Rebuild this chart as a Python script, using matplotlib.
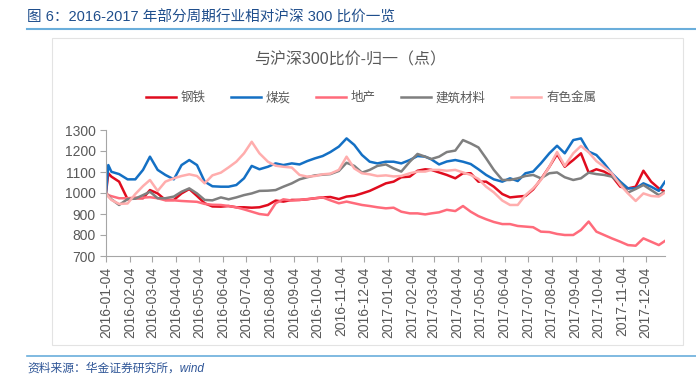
import numpy as np
import pandas as pd
import matplotlib
matplotlib.use("Agg")
import matplotlib.pyplot as plt
import matplotlib.dates as mdates
from matplotlib.lines import Line2D
from matplotlib.patches import Rectangle

plt.rcParams["font.family"] = ["Liberation Sans", "Noto Sans CJK SC", "DejaVu Sans"]

dates = pd.to_datetime([
    "2016-01-04", "2016-01-07", "2016-01-11", "2016-01-21",
    "2016-02-01", "2016-02-11", "2016-02-21", "2016-03-01", "2016-03-11", "2016-03-21",
    "2016-04-01", "2016-04-11", "2016-04-21", "2016-05-01", "2016-05-11", "2016-05-21",
    "2016-06-01", "2016-06-11", "2016-06-21", "2016-07-01", "2016-07-11", "2016-07-21",
    "2016-08-01", "2016-08-11", "2016-08-21", "2016-09-01", "2016-09-11", "2016-09-21",
    "2016-10-01", "2016-10-11", "2016-10-21", "2016-11-01", "2016-11-11", "2016-11-21",
    "2016-12-01", "2016-12-11", "2016-12-21",
    "2017-01-01", "2017-01-11", "2017-01-21", "2017-02-01", "2017-02-11", "2017-02-21",
    "2017-03-01", "2017-03-11", "2017-03-21", "2017-04-01", "2017-04-11", "2017-04-21",
    "2017-05-01", "2017-05-11", "2017-05-21", "2017-06-01", "2017-06-11", "2017-06-21",
    "2017-07-01", "2017-07-11", "2017-07-21", "2017-08-01", "2017-08-11", "2017-08-21",
    "2017-09-01", "2017-09-11", "2017-09-21", "2017-10-01", "2017-10-11", "2017-10-21",
    "2017-11-01", "2017-11-11", "2017-11-21", "2017-12-01", "2017-12-11", "2017-12-21",
    "2017-12-29",
])

steel = [1000, 1094, 1078, 1054, 970, 975, 975, 1014, 998, 967, 967, 998, 1019, 986, 951, 936,
         935, 938, 932, 932, 930, 932, 943, 964, 959, 967, 967, 970, 975, 979, 981, 971, 983, 987,
         998, 1010, 1027,
         1046, 1054, 1075, 1078, 1106, 1113, 1110, 1098, 1086, 1070, 1094, 1094, 1054, 1054, 1030,
         995, 979, 983, 986, 1017, 1065, 1125, 1185, 1125, 1157, 1189, 1097, 1113, 1102, 1081,
         1030, 1022, 1030, 1106, 1054, 1022, 1006]
coal = [1000, 1133, 1101, 1090, 1065, 1065, 1110, 1173, 1110, 1086, 1065, 1133, 1157, 1133, 1054, 1032,
        1030, 1030, 1038, 1070, 1129, 1113, 1125, 1141, 1133, 1141, 1136, 1152, 1165, 1176, 1195,
        1221, 1260, 1229, 1181, 1149, 1141,
        1149, 1149, 1141, 1157, 1176, 1173, 1160, 1136, 1150, 1157, 1149, 1138, 1113, 1086, 1065,
        1054, 1070, 1057, 1094, 1102, 1141, 1189, 1225, 1189, 1252, 1260, 1197, 1181, 1141, 1094,
        1054, 1022, 1022, 1046, 1030, 1010, 1054]
realty = [1000, 990, 985, 975, 975, 978, 978, 980, 975, 965, 965, 962, 960, 958, 948, 944,
          943, 938, 932, 922, 911, 900, 895, 951, 970, 964, 967, 971, 975, 979, 965, 951, 959, 951,
          943, 938, 932,
          927, 930, 911, 903, 903, 898, 903, 908, 920, 914, 938, 911, 890, 875, 862,
          852, 852, 843, 840, 837, 816, 814, 805, 800, 800, 824, 864, 816, 800, 784,
          768, 752, 749, 784, 768, 752, 772]
building = [1000, 986, 970, 943, 971, 973, 990, 1006, 975, 975, 983, 1006, 1022, 998, 967, 965,
            979, 970, 979, 990, 998, 1010, 1011, 1014, 1030, 1046, 1065, 1075, 1084, 1087, 1090,
            1105, 1144, 1129, 1097, 1110, 1129,
            1136, 1117, 1102, 1149, 1186, 1173, 1162, 1173, 1195, 1202, 1252, 1236, 1217, 1165, 1110,
            1062, 1062, 1070, 1081, 1086, 1070, 1094, 1098, 1075, 1062, 1070, 1097, 1090, 1086, 1078,
            1046, 1002, 1019, 1038, 1014, 990, 1006]
metals = [1000, 983, 967, 948, 950, 995, 1033, 1062, 1010, 1054, 1070, 1081, 1089, 1081, 1046, 1084,
          1097, 1122, 1149, 1189, 1244, 1189, 1149, 1130, 1125, 1121, 1086, 1078, 1081, 1089, 1092,
          1110, 1173, 1117, 1094, 1089, 1081,
          1084, 1079, 1081, 1094, 1102, 1102, 1110, 1110, 1106, 1110, 1098, 1086, 1067, 1030, 1003,
          964, 943, 943, 990, 1022, 1062, 1125, 1195, 1129, 1189, 1224, 1194, 1152, 1125, 1094,
          1038, 998, 962, 998, 986, 983, 1002]

names = ["钢铁", "煤炭", "地产", "建筑材料", "有色金属"]
colors = ["#E00C1E", "#1470C4", "#FF6B7B", "#7F7F7F", "#FFADAD"]

tick_dates = pd.date_range("2016-01-01", "2017-12-01", freq="MS") + pd.Timedelta(days=3)

W, H = 696, 382
fig = plt.figure(figsize=(W / 100, H / 100), dpi=100)
ax = fig.add_axes([106 / W, 1 - 256 / H, (665 - 106) / W, (256 - 130) / H])

for vals, name, c in zip([steel, coal, realty, building, metals], names, colors):
    ax.plot(dates, vals, color=c, lw=1.8, label=name, solid_joinstyle="round")

ax.set_ylim(700, 1300)
ax.set_yticks(np.arange(700, 1301, 100))
ax.set_xlim(pd.Timestamp("2016-01-04"), pd.Timestamp("2017-12-29"))
ax.set_xticks(tick_dates)
ax.xaxis.set_major_formatter(mdates.DateFormatter("%Y-%m-%d"))
plt.setp(ax.get_xticklabels(), rotation=90)

for s in ["top", "right"]:
    ax.spines[s].set_visible(False)
for s in ["left", "bottom"]:
    ax.spines[s].set_color("#A6A6A6")
    ax.spines[s].set_linewidth(0.8)
ax.tick_params(colors="#A6A6A6", labelcolor="#595959", labelsize=10, length=4, width=0.8)

fig.legend(loc="center", bbox_to_anchor=(371 / W, 1 - 98 / H), ncol=5, frameon=False,
           fontsize=9, handlelength=2.4, handletextpad=0.4, columnspacing=2.0,
           labelcolor="#595959")

fig.text(350 / W, 1 - 60 / H, "与沪深300比价-归一（点）", ha="center", va="center",
         fontsize=11.5, color="#595959")

fig.text(27 / W, 1 - 18 / H, "图 6：2016-2017 年部分周期行业相对沪深 300 比价一览",
         ha="left", va="center", fontsize=10.5, color="#1F4E8C")
fig.add_artist(Line2D([27 / W, 1], [1 - 29 / H] * 2, color="#6AAEDB", lw=1.5))
fig.add_artist(Line2D([27 / W, 1], [1 - 356 / H] * 2, color="#6AAEDB", lw=1.2))
fig.text(27 / W, 1 - 369 / H, "资料来源：华金证券研究所，wind", ha="left", va="center",
         fontsize=8.5, color="#2E5597", style="italic")

fig.add_artist(Rectangle((52 / W, 1 - 345 / H), (683 - 52) / W, (345 - 38) / H,
                         fill=False, edgecolor="#E3E3E3", lw=0.8))

fig.savefig("out.png", dpi=100)
